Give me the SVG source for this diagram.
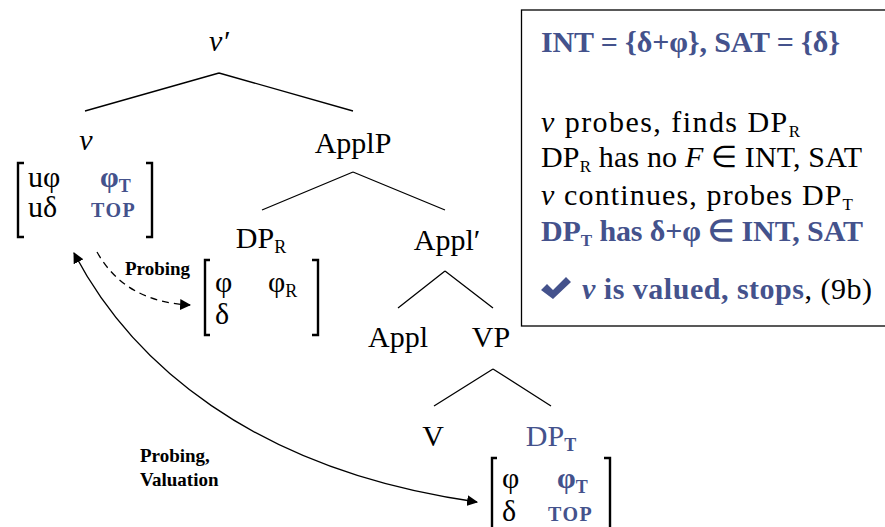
<svg xmlns="http://www.w3.org/2000/svg" width="885" height="527" viewBox="0 0 885 527">
<defs>
<marker id="ah" viewBox="0 0 10 10" refX="9" refY="5" markerWidth="11" markerHeight="11" markerUnits="userSpaceOnUse" orient="auto-start-reverse">
<path d="M0,0 L10,5 L0,10 z" fill="#000"/>
</marker>
</defs>
<rect width="885" height="527" fill="#fff"/>

<g id="edges" stroke="#000" stroke-width="1.3" fill="none">
<path d="M219,73 L85,111 M219,73 L353,111"/>
<path d="M353,172 L262,210 M353,172 L445,210"/>
<path d="M445,271 L398,308 M445,271 L493,308"/>
<path d="M493,369 L434,406 M493,369 L551,406"/>
<path stroke-dasharray="7,5" d="M97,252 Q125,302 190,305" marker-end="url(#ah)"/>
<path d="M74,253 C130,360 250,470 477,502" marker-start="url(#ah)" marker-end="url(#ah)"/>
</g>

<g id="node-vbar"><text style="font-family:'Liberation Serif','Times New Roman',serif" font-size="30" text-anchor="middle" font-style="italic" x="219" y="51">ν′</text></g>

<g id="node-v">
<text style="font-family:'Liberation Serif','Times New Roman',serif" font-size="30" text-anchor="middle" font-style="italic" x="86" y="150">ν</text>
<path stroke="#000" stroke-width="2.4" fill="none" d="M24,163 H18 V237 H24 M146,163 H152 V237 H146"/>
<text style="font-family:'Liberation Serif','Times New Roman',serif" font-size="30" x="28" y="187">uφ</text>
<text style="font-family:'Liberation Serif','Times New Roman',serif" font-size="30" x="28" y="217">uδ</text>
<text style="font-family:'Liberation Serif','Times New Roman',serif" font-size="30" font-weight="bold" fill="#44528c" x="100" y="187">φ<tspan font-size="18" dy="5">T</tspan></text>
<text style="font-family:'Liberation Serif','Times New Roman',serif" font-size="20" font-weight="bold" letter-spacing="1.5" fill="#44528c" x="91" y="217">TOP</text>
</g>

<g id="node-applp"><text style="font-family:'Liberation Serif','Times New Roman',serif" font-size="30" text-anchor="middle" x="353" y="153">ApplP</text></g>

<g id="node-dpr">
<text style="font-family:'Liberation Serif','Times New Roman',serif" font-size="30" text-anchor="middle" x="261" y="248">DP<tspan font-size="18" dy="5">R</tspan></text>
<path stroke="#000" stroke-width="2.4" fill="none" d="M210,260 H205 V335 H210 M312,260 H318 V335 H312"/>
<text style="font-family:'Liberation Serif','Times New Roman',serif" font-size="30" x="215" y="292">φ</text>
<text style="font-family:'Liberation Serif','Times New Roman',serif" font-size="30" x="268" y="292">φ<tspan font-size="18" dy="5">R</tspan></text>
<text style="font-family:'Liberation Serif','Times New Roman',serif" font-size="30" x="215" y="324">δ</text>
</g>

<g id="node-applbar"><text style="font-family:'Liberation Serif','Times New Roman',serif" font-size="30" text-anchor="middle" x="447" y="250">Appl′</text></g>
<g id="node-appl"><text style="font-family:'Liberation Serif','Times New Roman',serif" font-size="30" text-anchor="middle" x="398" y="347">Appl</text></g>
<g id="node-vp"><text style="font-family:'Liberation Serif','Times New Roman',serif" font-size="30" text-anchor="middle" x="491" y="347">VP</text></g>
<g id="node-V"><text style="font-family:'Liberation Serif','Times New Roman',serif" font-size="30" text-anchor="middle" x="433" y="446">V</text></g>

<g id="node-dpt">
<text style="font-family:'Liberation Serif','Times New Roman',serif" font-size="30" text-anchor="middle" fill="#44528c" x="551" y="446">DP<tspan font-size="18" font-weight="bold" dy="5">T</tspan></text>
<path stroke="#000" stroke-width="2.4" fill="none" d="M497,458 H492 V530 M604,458 H610 V530"/>
<text style="font-family:'Liberation Serif','Times New Roman',serif" font-size="30" x="502" y="488">φ</text>
<text style="font-family:'Liberation Serif','Times New Roman',serif" font-size="30" x="502" y="521">δ</text>
<text style="font-family:'Liberation Serif','Times New Roman',serif" font-size="30" font-weight="bold" fill="#44528c" x="557" y="488">φ<tspan font-size="18" dy="5">T</tspan></text>
<text style="font-family:'Liberation Serif','Times New Roman',serif" font-size="20" font-weight="bold" letter-spacing="1.5" fill="#44528c" x="548" y="521">TOP</text>
</g>

<g id="label-probing">
<text style="font-family:'Liberation Serif','Times New Roman',serif" font-size="19" font-weight="bold" x="125" y="275">Probing</text>
</g>
<g id="label-valuation">
<text style="font-family:'Liberation Serif','Times New Roman',serif" font-size="19" font-weight="bold" x="140" y="462">Probing,</text>
<text style="font-family:'Liberation Serif','Times New Roman',serif" font-size="19" font-weight="bold" x="140" y="486">Valuation</text>
</g>

<g id="infobox">
<rect x="521.5" y="10" width="370" height="316" fill="#fff" stroke="#000" stroke-width="1.3"/>
<text style="font-family:'Liberation Serif','Times New Roman',serif" font-size="30" font-weight="bold" fill="#44528c" x="541" y="52" textLength="299">INT = {δ+φ}, SAT = {δ}</text>
<text style="font-family:'Liberation Serif','Times New Roman',serif" font-size="30" x="541" y="132" textLength="259"><tspan font-style="italic">ν</tspan> probes, finds DP<tspan font-size="17" dy="5">R</tspan></text>
<text style="font-family:'Liberation Serif','Times New Roman',serif" font-size="30" x="541" y="167" textLength="321">DP<tspan font-size="17" dy="5">R</tspan><tspan dy="-5"> has no </tspan><tspan font-style="italic">F</tspan> ∈ INT, SAT</text>
<text style="font-family:'Liberation Serif','Times New Roman',serif" font-size="30" x="541" y="205" textLength="312"><tspan font-style="italic">ν</tspan> continues, probes DP<tspan font-size="17" dy="5">T</tspan></text>
<text style="font-family:'Liberation Serif','Times New Roman',serif" font-size="30" font-weight="bold" fill="#44528c" x="541" y="241" textLength="322">DP<tspan font-size="17" dy="5">T</tspan><tspan dy="-5"> has δ+φ ∈ INT, SAT</tspan></text>
<path fill="#44528c" d="M541,290 L547,284 L553,290 L566,277 L571,282 L553,299 Z"/>
<text style="font-family:'Liberation Serif','Times New Roman',serif" font-size="30" x="582" y="299" textLength="290"><tspan fill="#44528c" font-weight="bold" font-style="italic">ν</tspan><tspan fill="#44528c" font-weight="bold"> is valued, stops</tspan>, (9b)</text>
</g>
</svg>
